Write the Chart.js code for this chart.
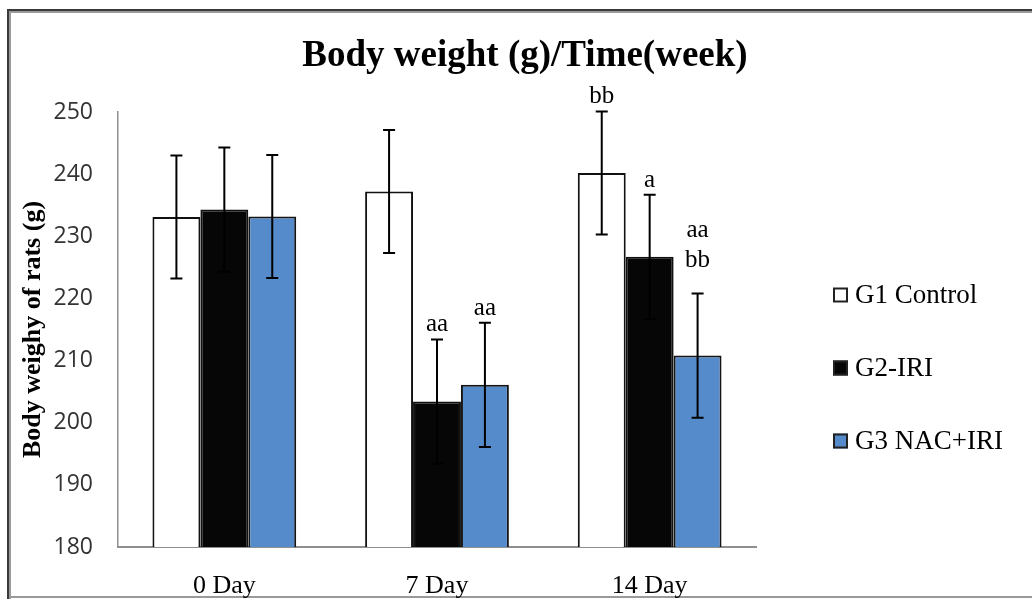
<!DOCTYPE html>
<html>
<head>
<meta charset="utf-8">
<script src="https://cdn.jsdelivr.net/npm/chart.js@4.4.1/dist/chart.umd.min.js"></script>
<style>
  html, body { margin: 0; padding: 0; background: #ffffff; }
  #wrap { position: relative; width: 1032px; height: 599px; }
  canvas { display: block; }
</style>
</head>
<body>
<div id="wrap"><canvas id="c" width="1032" height="599"></canvas></div>
<script>
// ---- data ----
const categories = ['0 Day', '7 Day', '14 Day'];
const seriesNames = ['G1 Control', 'G2-IRI', 'G3 NAC+IRI'];
const g1Values = [233.1, 237.2, 240.2];
const g2Values = [234.3, 203.4, 226.7];
const g3Values = [233.2, 206.1, 210.8];
const g1Errors = [9.9, 9.9, 9.9];
const g2Errors = [10.0, 10.0, 10.0];
const g3Errors = [9.9, 10.0, 10.0];
const g1Marks = ['', '', 'bb'];
const g2Marks = ['', 'aa', 'a'];
const g3Marks = ['', 'aa', 'aa\nbb'];
const yTicks = [180, 190, 200, 210, 220, 230, 240, 250];

const serif = '"Liberation Serif", "Times New Roman", serif';

const datasets = [
  { label: seriesNames[0], data: g1Values, errors: g1Errors, marks: g1Marks,
    backgroundColor: '#ffffff', borderColor: '#111111' },
  { label: seriesNames[1], data: g2Values, errors: g2Errors, marks: g2Marks,
    backgroundColor: '#060606', borderColor: '#111111' },
  { label: seriesNames[2], data: g3Values, errors: g3Errors, marks: g3Marks,
    backgroundColor: '#568bcb', borderColor: '#151515' }
].map(d => Object.assign(d, { borderWidth: 2, borderSkipped: 'start' }));

// frame around the figure
const framePlugin = {
  id: 'frame',
  beforeDraw(chart) {
    const ctx = chart.ctx;
    ctx.save();
    ctx.fillStyle = '#ffffff';
    ctx.fillRect(0, 0, chart.width, chart.height);
    ctx.fillStyle = '#3a3a3a';
    ctx.fillRect(7, 9, 2, chart.height - 9);
    ctx.fillRect(7, 9, chart.width - 7, 2);
    ctx.fillStyle = '#9a9a9a';
    ctx.fillRect(9, 11, 2, chart.height - 11);
    ctx.fillRect(9, 11, chart.width - 9, 2);
    ctx.fillRect(9, 596, chart.width - 9, 2);
    ctx.restore();
  }
};

// error bars + significance letters
const errorPlugin = {
  id: 'errorbars',
  afterDatasetsDraw(chart) {
    const ctx = chart.ctx;
    const y = chart.scales.y;
    ctx.save();
    chart.data.datasets.forEach((ds, di) => {
      const meta = chart.getDatasetMeta(di);
      meta.data.forEach((bar, i) => {
        const v = ds.data[i], e = ds.errors[i];
        const x = bar.x;
        const yt = y.getPixelForValue(v + e);
        const yb = y.getPixelForValue(v - e);
        ctx.strokeStyle = '#000000';
        ctx.lineWidth = 2;
        ctx.beginPath();
        ctx.moveTo(x, yt); ctx.lineTo(x, yb);
        ctx.moveTo(x - 6, yt); ctx.lineTo(x + 6, yt);
        ctx.moveTo(x - 6, yb); ctx.lineTo(x + 6, yb);
        ctx.stroke();
        const m = ds.marks[i];
        if (m) {
          const lines = m.split('\n');
          ctx.fillStyle = '#000000';
          ctx.font = '25px ' + serif;
          ctx.textAlign = 'center';
          ctx.textBaseline = 'alphabetic';
          const gap = lines.length > 1 ? 26 : 8;
          lines.forEach((t, k) => {
            const by = yt - gap - (lines.length - 1 - k) * 30;
            ctx.fillText(t, x, by);
          });
        }
      });
    });
    ctx.restore();
  }
};

// legend on the right
const legendPlugin = {
  id: 'sideLegend',
  afterDraw(chart) {
    const ctx = chart.ctx;
    const area = chart.chartArea;
    const x0 = area.right + 77;
    const cy = (area.top + area.bottom) / 2 + 38;
    ctx.save();
    chart.data.datasets.forEach((ds, i) => {
      const yc = cy + (i - 1) * 73;
      ctx.fillStyle = ds.backgroundColor;
      ctx.fillRect(x0, yc - 7, 15, 15);
      ctx.strokeStyle = '#222222';
      ctx.lineWidth = 2;
      ctx.strokeRect(x0 + 1, yc - 6, 13, 13);
      ctx.fillStyle = '#000000';
      ctx.font = '27px ' + serif;
      ctx.textAlign = 'left';
      ctx.textBaseline = 'middle';
      ctx.fillText(ds.label, x0 + 22, yc + 1);
    });
    ctx.restore();
  }
};

new Chart(document.getElementById('c'), {
  type: 'bar',
  data: { labels: categories, datasets: datasets },
  options: {
    responsive: false,
    animation: false,
    devicePixelRatio: 1,
    layout: { padding: { left: 18, right: 0, top: 0, bottom: 0 } },
    datasets: { bar: { categoryPercentage: 0.676, barPercentage: 1.0 } },
    plugins: {
      legend: { display: false },
      tooltip: { enabled: false },
      title: {
        display: true,
        text: 'Body weight (g)/Time(week)',
        color: '#000000',
        font: { family: serif, size: 37, weight: 'bold', lineHeight: 1.2 },
        padding: { top: 34, bottom: 33.6 }
      }
    },
    scales: {
      x: {
        grid: { display: false, drawTicks: false },
        border: { display: true, color: '#8f8f8f', width: 2 },
        ticks: { color: '#000000', font: { family: serif, size: 26 }, padding: 24, maxRotation: 0 },
        afterFit(scale) { scale.height = 52; }
      },
      y: {
        min: yTicks[0],
        max: yTicks[yTicks.length - 1],
        afterBuildTicks(scale) { scale.ticks = yTicks.map(v => ({ value: v })); },
        grid: { display: false, drawTicks: false },
        border: { display: true, color: '#8f8f8f', width: 1.5 },
        ticks: { color: '#333333', font: { family: '"Open Sans", sans-serif', size: 23 }, padding: 25 },
        title: {
          display: true,
          text: 'Body weighy of rats (g)',
          color: '#000000',
          font: { family: serif, size: 26, weight: 'bold', lineHeight: 1.2 },
          padding: { top: 0, bottom: 0 }
        },
        afterFit(scale) { scale.width = 100; }
      },
      yRight: {
        position: 'right',
        display: true,
        grid: { display: false, drawTicks: false },
        border: { display: false },
        ticks: { display: false },
        afterFit(scale) { scale.width = 276; }
      }
    }
  },
  plugins: [framePlugin, errorPlugin, legendPlugin]
});
</script>
</body>
</html>
